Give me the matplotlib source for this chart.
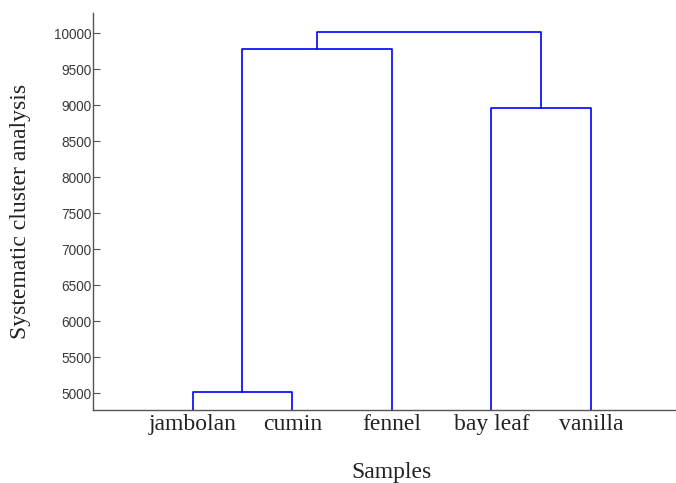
import numpy as np
from matplotlib import pyplot as plt

# leaves in dendrogram order
samples = ['jambolan', 'cumin', 'fennel', 'bay leaf', 'vanilla']

# merges: (left child, right child, height); children are leaf names or 'c<k>'
merge_left = ['jambolan', 'c0', 'bay leaf', 'c1']
merge_right = ['cumin', 'fennel', 'vanilla', 'c2']
merge_height = [5022, 9778, 8967, 10022]

yticks = np.arange(5000, 10001, 500)

fig = plt.figure(figsize=(6.76, 4.83), dpi=100)
ax = fig.add_axes([0.1376, 0.1518, 0.884, 0.8214])

pos = {name: i + 1 for i, name in enumerate(samples)}
hgt = {name: 0 for name in samples}
for k, (a, b, h) in enumerate(zip(merge_left, merge_right, merge_height)):
    xa, xb = pos[a], pos[b]
    ax.plot([xa, xa, xb, xb], [hgt[a], h, h, hgt[b]], color='#0000ff', lw=1.2)
    pos['c%d' % k] = (xa + xb) / 2
    hgt['c%d' % k] = h

ax.set_xlim(0, 6)
ax.set_ylim(4772, 10282)
ax.set_xticks(range(1, len(samples) + 1))
ax.set_xticklabels(samples, fontfamily='Liberation Serif', fontsize=17, color='#222222')
ax.set_yticks(yticks)
ax.set_yticklabels([str(v) for v in yticks], fontfamily='Liberation Sans', fontsize=9.8, color='#3a3a3a')
ax.tick_params(axis='x', length=0, pad=3)
ax.tick_params(axis='y', direction='in', length=5, color='#555555', pad=1)

for s in ['top', 'right']:
    ax.spines[s].set_visible(False)
for s in ['left', 'bottom']:
    ax.spines[s].set_color('#555555')
    ax.spines[s].set_linewidth(1.0)

fig.text(0.5795, 0.021, 'Samples', ha='center', va='center',
         fontfamily='Liberation Serif', fontsize=17, color='#222222')
fig.text(0.03, 0.563, 'Systematic cluster analysis', ha='center', va='center', rotation=90,
         fontfamily='Liberation Serif', fontsize=17, color='#222222')

fig.savefig('out.png', dpi=100)
